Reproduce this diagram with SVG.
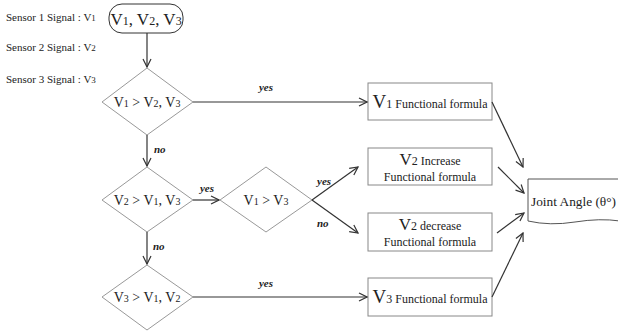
<svg xmlns="http://www.w3.org/2000/svg" width="618" height="331" viewBox="0 0 618 331">
<style>
text{font-family:"Liberation Serif","Times New Roman",serif;fill:#222}
.lbl{font-size:11px}
.yn{font-size:11px;font-style:italic;font-weight:bold}
.dia{fill:#fff;stroke:#999;stroke-width:1}
.box{fill:#fff;stroke:#888;stroke-width:1}
.con{fill:none;stroke:#333;stroke-width:1.2;marker-end:url(#ah)}
</style>
<defs>
<marker id="ah" markerWidth="10" markerHeight="10" refX="9" refY="5" orient="auto" markerUnits="userSpaceOnUse">
<path d="M1,1 L9,5 L1,9" fill="none" stroke="#333" stroke-width="1.2"/>
</marker>
</defs>
<g id="sensors">
<text class="lbl" x="6" y="21">Sensor 1 Signal : V<tspan font-size="9">1</tspan></text>
<text class="lbl" x="6" y="51">Sensor 2 Signal : V<tspan font-size="9">2</tspan></text>
<text class="lbl" x="6" y="83">Sensor 3 Signal : V<tspan font-size="9">3</tspan></text>
</g>
<g id="start">
<rect x="109" y="4" width="74" height="29" rx="13" fill="#fff" stroke="#333" stroke-width="1"/>
<text x="146" y="25" text-anchor="middle" font-size="17">V<tspan font-size="12">1</tspan>, V<tspan font-size="12">2</tspan>, V<tspan font-size="12">3</tspan></text>
</g>
<g id="d1">
<polygon class="dia" points="147,68 193,102 147,135 102,102"/>
<text x="147" y="107" text-anchor="middle" font-size="14">V<tspan font-size="10">1</tspan> &gt; V<tspan font-size="10">2</tspan>, V<tspan font-size="10">3</tspan></text>
</g>
<g id="d2">
<polygon class="dia" points="147,167 193,200 147,232 102,200"/>
<text x="147" y="205" text-anchor="middle" font-size="14">V<tspan font-size="10">2</tspan> &gt; V<tspan font-size="10">1</tspan>, V<tspan font-size="10">3</tspan></text>
</g>
<g id="d3">
<polygon class="dia" points="147,265 193,297 147,330 102,297"/>
<text x="147" y="302" text-anchor="middle" font-size="14">V<tspan font-size="10">3</tspan> &gt; V<tspan font-size="10">1</tspan>, V<tspan font-size="10">2</tspan></text>
</g>
<g id="d4">
<polygon class="dia" points="266,167 312,200 266,232 220,200"/>
<text x="266" y="205" text-anchor="middle" font-size="14">V<tspan font-size="10">1</tspan> &gt; V<tspan font-size="10">3</tspan></text>
</g>
<g id="b1">
<rect class="box" x="368" y="83" width="124" height="37"/>
<text x="430" y="108" text-anchor="middle"><tspan font-size="19">V</tspan><tspan font-size="12">1 Functional  formula</tspan></text>
</g>
<g id="b2">
<rect class="box" x="368" y="148" width="124" height="37"/>
<text x="430" y="165" text-anchor="middle"><tspan font-size="17">V</tspan><tspan font-size="12">2 Increase</tspan></text>
<text x="430" y="181" text-anchor="middle" font-size="12">Functional  formula</text>
</g>
<g id="b3">
<rect class="box" x="368" y="213" width="124" height="38"/>
<text x="430" y="230" text-anchor="middle"><tspan font-size="17">V</tspan><tspan font-size="12">2 decrease</tspan></text>
<text x="430" y="246" text-anchor="middle" font-size="12">Functional  formula</text>
</g>
<g id="b4">
<rect class="box" x="368" y="278" width="124" height="38"/>
<text x="430" y="303" text-anchor="middle"><tspan font-size="19">V</tspan><tspan font-size="12">3 Functional  formula</tspan></text>
</g>
<g id="out">
<path d="M528,179 L620,179 L620,221 Q600,218 575,222 Q550,226 528,221 Z" fill="#fff" stroke="#555" stroke-width="1"/>
<text x="531" y="206" font-size="13.5" textLength="85" lengthAdjust="spacingAndGlyphs">Joint Angle (θ°)</text>
</g>
<g id="connectors">
<line class="con" x1="147" y1="33" x2="147" y2="67"/>
<line class="con" x1="147" y1="135" x2="147" y2="166"/>
<line class="con" x1="147" y1="232" x2="147" y2="264"/>
<line class="con" x1="193" y1="102" x2="367" y2="102"/>
<line class="con" x1="193" y1="200" x2="219" y2="200"/>
<line class="con" x1="193" y1="297" x2="367" y2="297"/>
<line class="con" x1="312" y1="200" x2="358" y2="167"/>
<line class="con" x1="312" y1="200" x2="358" y2="233"/>
<line class="con" x1="492" y1="102" x2="523" y2="167"/>
<line class="con" x1="498" y1="167" x2="524" y2="193"/>
<line class="con" x1="497" y1="233" x2="524" y2="213"/>
<line class="con" x1="492" y1="297" x2="523" y2="233"/>
<text class="yn" x="266" y="91" text-anchor="middle">yes</text>
<text class="yn" x="154" y="153">no</text>
<text class="yn" x="207" y="192" text-anchor="middle">yes</text>
<text class="yn" x="153" y="250">no</text>
<text class="yn" x="266" y="287" text-anchor="middle">yes</text>
<text class="yn" x="317" y="185">yes</text>
<text class="yn" x="317" y="227">no</text>
</g>
</svg>
